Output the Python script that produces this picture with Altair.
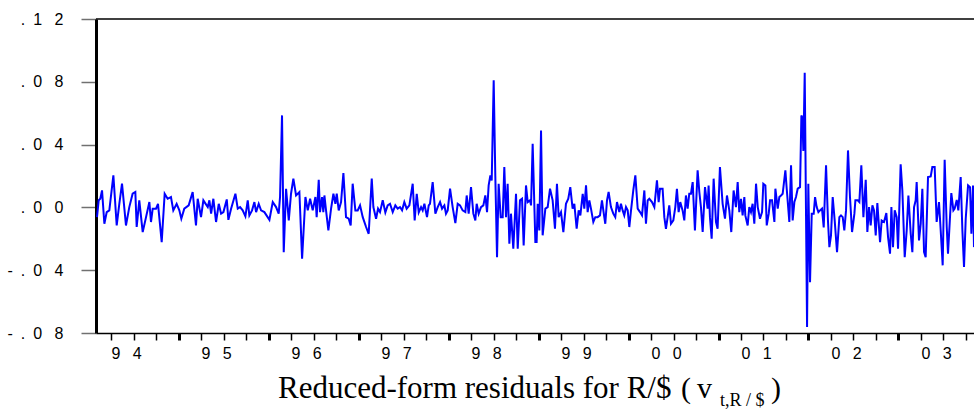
import altair as alt
import pandas as pd

# Residual series, read segment by segment: start year of segment, time offsets (years),
# and residual values (in thousandths)
SEG_A_START = 1993.833
SEG_A_OFF = [.011,.030,.048,.067,.093,.119,.148,.193,.230,.259,.289,.333,.370,.407,.437,.452,.481,.519,.556,.593,.611,.630,.667,.689,.730,.763,.796,.833,.859,.896,.926,.948,.981,1.030,1.074,1.111,1.130,1.167,1.193]
SEG_A_VAL = [-6.2,4.5,5.5,10.8,-10.4,-3.0,-1.9,20.4,-11.5,2.3,15.1,-11.5,0.2,8.7,9.8,-12.5,4.5,-15.7,-6.2,3.4,-9.3,-0.8,-0.8,2.3,-22.1,8.7,5.5,6.6,-1.9,2.3,-1.9,-7.2,-0.8,1.3,9.8,-11.5,5.5,-6.2,4.5]

SEG_B_START = 1995.056
SEG_B_OFF = [.019,.037,.056,.081,.111,.141,.167,.193,.230,.248,.278,.326,.352,.378,.407,.437,.463,.481,.511,.537,.556,.585,.611,.648,.704,.741,.778,.807,.822,.844,.863,.889,.919,.944,.970,1.000,1.037,1.067,1.104,1.130,1.156,1.185,1.215]
SEG_B_VAL = [0.2,4.5,-4.0,5.5,-9.3,2.3,-4.0,-3.0,5.1,-7.9,-0.8,8.7,-0.8,0.2,-1.9,-5.7,4.5,-5.1,-1.9,3.4,-3.0,2.3,-1.9,-3.0,-7.9,3.4,0.2,-4.0,6.6,58.6,-28.5,11.9,-8.3,8.7,18.3,7.6,9.8,-32.7,6.6,-1.9,5.5,-1.9,6.6]

SEG_C_START = 1996.278
SEG_C_OFF = [.007,.030,.044,.067,.081,.093,.111,.137,.167,.193,.215,.230,.252,.278,.304,.333,.363,.385,.407,.437,.463,.489,.519,.556,.585,.619,.637,.667,.689,.711,.741,.770,.796,.822,.852,.881,.907,.933,.956,.981,1.007,1.037,1.074,1.096,1.119,1.141,1.167,1.185,1.204]
SEG_C_VAL = [-6.2,17.6,-3.0,6.6,-3.0,7.6,-1.9,-14.7,-0.8,8.7,2.3,8.7,-1.9,3.4,21.9,-6.2,-7.2,-11.5,15.1,-1.9,-1.9,1.3,-6.2,-12.5,-16.8,18.3,0.2,-7.2,-0.8,-3.0,4.5,-3.2,1.3,2.3,-3.0,1.3,-0.8,0.2,-1.9,3.4,-0.8,1.3,15.1,-8.3,8.7,-3.2,0.2,-1.9,2.3]

SEG_D_START = 1997.5
SEG_D_OFF = [.011,.030,.044,.074,.104,.130,.156,.178,.204,.222,.241,.267,.296,.326,.352,.378,.407,.437,.452,.474,.500,.526,.548,.563,.585,.611,.637,.659,.678,.696,.715,.730,.752,.770,.789,.807,.830,.852,.870,.889,.907,.926,.944,.970,1.000,1.019,1.044,1.067,1.085,1.111,1.130,1.156,1.167,1.185,1.215]
SEG_D_VAL = [-6.2,1.3,2.3,16.1,-4.0,0.2,3.4,-0.8,1.3,-4.0,-1.9,11.9,0.2,-10.0,2.3,1.3,-1.9,-3.0,7.6,-4.0,12.9,-4.0,-8.3,2.3,-4.0,0.2,1.3,7.6,-3.0,14.0,20.4,17.2,80.9,20.0,-31.7,15.1,-6.2,-6.2,25.7,-6.2,15.1,-23.1,-4.0,-26.3,8.7,-26.3,4.5,5.5,-24.2,14.0,3.4,4.5,1.3,40.6,-22.1]

SEG_E_START = 1998.722
SEG_E_OFF = [.007,.019,.037,.056,.074,.104,.130,.156,.185,.211,.233,.252,.278,.304,.333,.359,.381,.407,.426,.452,.474,.493,.519,.537,.556,.574,.593,.611,.637,.659,.685,.711,.733,.759,.770,.789,.807,.833,.859,.881,.900,.926,.944,.963,.981,1.000,1.019,1.037,1.056,1.081,1.104,1.130,1.156,1.178,1.204]
SEG_E_VAL = [-22.1,2.3,-14.7,49.0,-17.8,-0.8,0.2,11.9,4.5,-13.6,15.1,-6.2,-3.0,-15.7,2.3,5.5,12.9,-0.8,2.3,-13.6,-1.9,-5.1,8.7,-0.8,14.0,-3.0,4.5,-0.8,-9.3,-6.2,-6.2,-5.1,4.5,-6.2,-10.4,4.5,9.8,0.2,-4.0,-6.2,3.4,-3.0,2.3,-1.9,-5.1,0.2,-1.9,-12.5,-1.9,10.8,20.4,-0.8,-3.0,-5.1,10.8]

SEG_F_START = 1999.944
SEG_F_OFF = [0,.019,.037,.067,.093,.122,.141,.156,.185,.204,.222,.241,.259,.278,.304,.326,.344,.363,.381,.407,.426,.444,.463,.481,.500,.519,.544,.574,.593,.611,.630,.656,.685,.696,.711,.730,.752,.778,.796,.822,.852,.878,.900,.926,.948,.974,1.000,1.019,1.037,1.056,1.074,1.093,1.104,1.130,1.148,1.167,1.185,1.204]
SEG_F_VAL = [-10.4,4.5,5.5,3.4,0.2,17.2,3.4,11.9,11.9,-6.2,-13.6,-6.2,1.3,-10.4,-8.3,0.2,11.9,-3.0,3.4,-1.9,-8.3,7.6,-0.8,8.7,8.7,16.1,-14.7,23.6,9.8,0.2,-15.7,12.9,-0.8,14.0,-6.2,-19.9,18.3,-9.3,-13.6,25.7,2.3,-7.2,7.6,-1.9,-15.7,10.8,0.2,16.1,-3.0,5.5,-5.1,6.6,-5.1,-11.5,0.2,-3.0,2.3,-10.4]

SEG_G_START = 2001.167
SEG_G_OFF = [0,.019,.044,.067,.081,.104,.119,.141,.156,.178,.204,.215,.241,.259,.278,.296,.326,.341,.370,.389,.407,.426,.444,.463,.489,.504,.515,.526,.541,.567,.581,.600,.619,.641,.656,.674,.693,.711,.733,.752,.778,.800,.815,.833,.852,.874,.900,.926,.944,.963,.981,1.000,1.022,1.044,1.067,1.093,1.104,1.130,1.148,1.170,1.193]
SEG_G_VAL = [15.1,0.2,-7.2,-3.0,15.1,14.0,-11.5,-4.0,4.5,4.5,-9.3,11.9,-0.8,6.6,7.6,8.7,23.6,11.9,-9.3,26.8,-8.3,3.4,6.6,11.9,12.9,58.6,57.0,36.0,85.8,-76.2,15.1,-47.6,-4.0,-4.0,6.6,0.2,-3.0,-1.9,-0.8,-12.7,26.8,-9.3,-25.3,-17.8,6.6,-8.3,-28.5,-6.2,-5.1,-6.2,-14.7,-1.9,36.3,6.6,-15.7,-4.0,4.5,4.5,3.4,26.8,-6.2]

SEG_H_START = 2002.367
SEG_H_OFF = [.019,.037,.056,.074,.093,.111,.130,.148,.178,.196,.222,.248,.267,.289,.304,.322,.341,.363,.378,.407,.426,.452,.474,.493,.519,.537,.556,.574,.585,.611,.630,.648,.667,.685,.711,.741,.759,.785,.807,.833,.852,.874,.896,.919,.933,.970,.993,1.007,1.030,1.048,1.074,1.093,1.111,1.130,1.156,1.178,1.193,1.211,1.222]
SEG_H_VAL = [17.6,-15.7,0.2,-11.5,1.3,-1.9,-17.8,2.7,-22.1,-8.3,-9.3,-3.6,-18.9,-29.5,0.2,-25.3,-1.9,-6.2,-26.3,27.4,10.8,-31.7,-14.7,7.6,-16.8,-28.5,0.2,4.5,16.1,-21.0,-10.4,11.9,-28.5,-31.7,19.3,19.7,25.7,25.7,-9.3,3.4,-14.7,-36.9,30.4,-12.5,-29.5,9.1,-1.9,-0.8,4.8,-1.9,19.3,-14.7,-38.0,-7.2,14.0,12.9,-16.8,14.0,-25.3]

SEGMENTS = [
    (SEG_A_START, SEG_A_OFF, SEG_A_VAL),
    (SEG_B_START, SEG_B_OFF, SEG_B_VAL),
    (SEG_C_START, SEG_C_OFF, SEG_C_VAL),
    (SEG_D_START, SEG_D_OFF, SEG_D_VAL),
    (SEG_E_START, SEG_E_OFF, SEG_E_VAL),
    (SEG_F_START, SEG_F_OFF, SEG_F_VAL),
    (SEG_G_START, SEG_G_OFF, SEG_G_VAL),
    (SEG_H_START, SEG_H_OFF, SEG_H_VAL),
]

X_DOMAIN = [1993.833, 2003.589]
Y_DOMAIN = [-0.08, 0.12]
Y_TICKS = [-0.08, -0.04, 0.0, 0.04, 0.08, 0.12]
X_TICKS = [1994 + q * 0.25 for q in range(0, 39)]

rows = []
for start, offs, vals in SEGMENTS:
    for o, v in zip(offs, vals):
        rows.append({"t": round(start + o, 4), "v": v / 1000.0})
df = pd.DataFrame(rows)

W, H = 878, 314
SP = " \u2002"
EN = "\u2002"
y_label_expr = (
    f"datum.value > 0.1 ? '.{EN}1{SP}2' : "
    f"datum.value > 0.06 ? '.{EN}0{SP}8' : "
    f"datum.value > 0.02 ? '.{EN}0{SP}4' : "
    f"datum.value > -0.02 ? '.{EN}0{SP}0' : "
    f"datum.value > -0.06 ? '-{EN}.{EN}0{SP}4' : '-{EN}.{EN}0{SP}8'"
)
x_label_expr = (
    "abs(datum.value - round(datum.value)) < 0.01 ? "
    f"(substring(toString(round(datum.value)), 2, 3) + '{SP}' + substring(toString(round(datum.value)), 3, 4)) : ''"
)

line = alt.Chart(df).mark_line(color="#0000FF", strokeWidth=2, clip=True).encode(
    x=alt.X(
        "t:Q",
        scale=alt.Scale(domain=X_DOMAIN, nice=False, zero=False),
        axis=alt.Axis(
            values=X_TICKS,
            labelExpr=x_label_expr,
            title=None,
            grid=False,
            domainColor="black",
            domainWidth=1.6,
            tickColor="black",
            tickSize=7,
            tickWidth={"condition": {"test": "abs(datum.value - floor(datum.value) - 0.75) < 0.01", "value": 3}, "value": 1.5},
            labelAlign="left",
            labelBaseline="top",
            labelPadding=5,
            labelFont="Liberation Sans",
            labelFontSize=16,
            labelColor="black",
            labelFlush=False,
            labelOverlap=False,
        ),
    ),
    y=alt.Y(
        "v:Q",
        scale=alt.Scale(domain=Y_DOMAIN, nice=False, zero=False),
        axis=alt.Axis(
            values=Y_TICKS,
            labelExpr=y_label_expr,
            title=None,
            grid=False,
            domainColor="black",
            domainWidth=3,
            tickColor="#707070",
            tickSize=15,
            tickWidth=1.5,
            labelPadding=18,
            labelFont="Liberation Sans",
            labelFontSize=16,
            labelColor="black",
            labelFlush=False,
            labelOverlap=False,
        ),
    ),
)

dummy = pd.DataFrame({"a": [0]})
top_rule = alt.Chart(dummy).mark_rule(color="black", strokeWidth=1.6).encode(
    x=alt.value(0), x2=alt.value(W), y=alt.value(0)
)

def txt(s, x, y, size, align="left"):
    return alt.Chart(dummy).mark_text(
        text=s, font="Liberation Serif", fontSize=size, align=align,
        baseline="alphabetic", color="black"
    ).encode(x=alt.value(x), y=alt.value(y))

title_main = txt("Reduced-form residuals for R/$", 278 - 96, 398 - 19, 31)
title_open = txt("(", 681 - 96, 398 - 19, 30)
title_v = txt("v", 697 - 96, 398 - 19, 30)
title_sub = txt("t,R / $", 720 - 96, 406 - 19, 18)
title_close = txt(")", 771 - 96, 398 - 19, 30)

chart = alt.layer(
    line, top_rule, title_main, title_open, title_v, title_sub, title_close
).properties(
    width=W,
    height=H,
    autosize=alt.AutoSizeParams(type="none"),
    padding={"left": 96, "top": 19, "right": 0, "bottom": 82},
).configure_view(stroke=None)

chart.save("out.html", embed_options={"renderer": "svg", "actions": False})
